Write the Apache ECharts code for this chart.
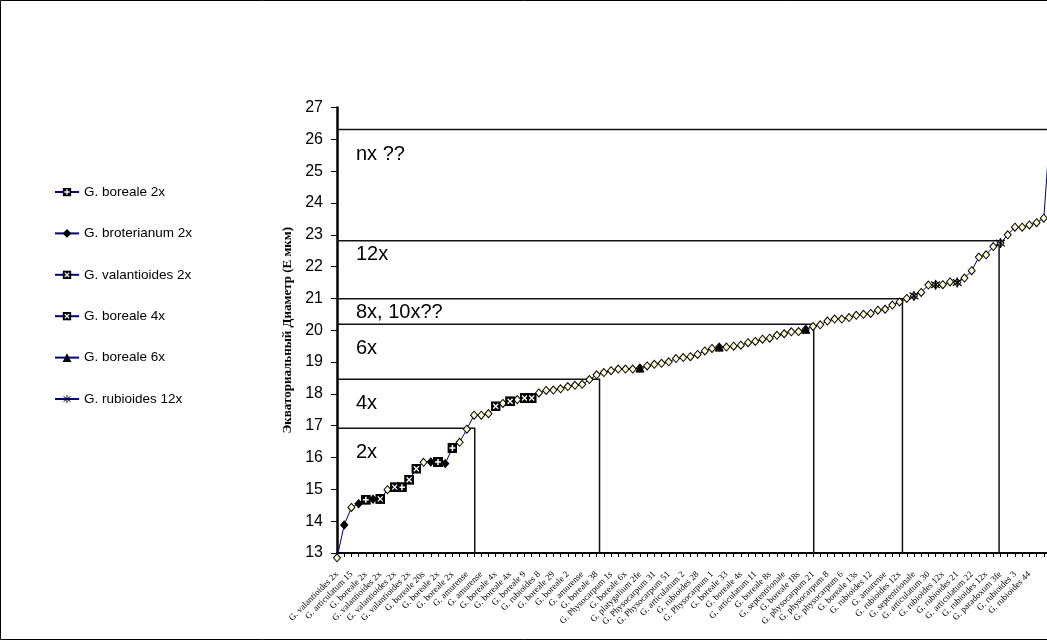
<!DOCTYPE html>
<html><head><meta charset="utf-8">
<script src="https://cdn.jsdelivr.net/npm/echarts@6/dist/echarts.min.js"></script>
<style>html,body{margin:0;padding:0;background:#fff}#c{width:1047px;height:641px}</style>
</head><body><div id="c"></div>
<script>
// Category tick labels (every second category is labelled)
const labels = [
 'G. valantioides 2x','G. articulatum 15','G. boreale 2x','G. valantioides 2x','G. valantioides 2x',
 'G. valantioides 2x','G. boreale 20s','G. boreale 2x','G. boreale 2x','G. amurense',
 'G. amurense','G. boreale 4x','G. boreale 4x','G. boreale 9','G. rubioides 8',
 'G. boreale 29','G. boreale 2','G. amurense','G. boreale 38','G. Physocarpum 1s',
 'G. boreale 6x','G. platygalium 2fe','G. Physocarpum 31','G. Physocarpum 51','G. articulatum 2',
 'G. rubioides 28','G. Physocarpum 1','G. boreale 33','G. boreale 4s','G. articulatum 11',
 'G. boreale 8s','G. septentrionale','G. boreale 18s','G. physocarpum 21','G. physocarpum 8',
 'G. physocarpum 6','G. boreale 13s','G. rubioides 12','G. amurense','G. rubioides 12x',
 'G. septentrionale','G. articulatum 30','G. rubioides 12x','G. rubioides 21','G. articulatum 22',
 'G. rubioides 12x','G. paradoxum 3fe','G. rubioides 3','G. rubioides 44'
];
// Equatorial diameter values, sorted
const values = [
 12.85,13.88,14.43,14.55,14.67,14.69,14.70,14.99,15.07,15.07,
 15.30,15.65,15.85,15.86,15.86,15.81,16.30,16.48,16.89,17.33,
 17.33,17.38,17.61,17.70,17.77,17.82,17.87,17.87,18.03,18.11,
 18.12,18.16,18.23,18.27,18.30,18.45,18.60,18.67,18.73,18.78,
 18.78,18.78,18.81,18.88,18.93,18.96,19.01,19.11,19.14,19.17,
 19.24,19.35,19.43,19.47,19.47,19.50,19.53,19.61,19.65,19.72,
 19.75,19.84,19.89,19.95,19.96,20.03,20.12,20.17,20.29,20.35,
 20.35,20.40,20.47,20.50,20.53,20.63,20.66,20.79,20.89,21.00,
 21.08,21.19,21.42,21.43,21.43,21.52,21.50,21.64,21.87,22.30,
 22.37,22.63,22.74,23.00,23.24,23.24,23.31,23.38,23.52,26.70
];
// positions (category index) of the highlighted samples
const boreale2x = [4, 9, 14, 16];
const broterianum2x = [1, 3, 5, 13, 15];
const valantioides2x = [6, 8, 10, 11];
const boreale4x = [22, 24, 26, 27];
const boreale6x = [42, 53, 65];
const rubioides12x = [80, 83, 86, 92];
// ploidy boxes
const bandNames = ['2x', '4x', '6x', '8x, 10x??', '12x', 'nx ??'];
const bandTops = [16.92, 18.46, 20.19, 20.99, 22.81, 26.31];
const bandEnds = [19.1, 36.4, 66.1, 78.4, 91.8, 110];
const bandLabelDy = [24, 24, 24, 14, 14, 25];

const categories = values.map((v, i) => (i % 2 === 0 && labels[i / 2] !== undefined) ? labels[i / 2] : '');

function svgSym(s) { return 'image://data:image/svg+xml;charset=utf-8,' + encodeURIComponent(s); }
const symPlus = svgSym("<svg xmlns='http://www.w3.org/2000/svg' width='20' height='20'><rect width='20' height='20' fill='black'/><path d='M10 4V16M4 10H16' stroke='white' stroke-width='3'/></svg>");
const symX = svgSym("<svg xmlns='http://www.w3.org/2000/svg' width='20' height='20'><rect width='20' height='20' fill='black'/><path d='M5 5L15 15M15 5L5 15' stroke='white' stroke-width='2.6'/></svg>");
const symStar = svgSym("<svg xmlns='http://www.w3.org/2000/svg' width='20' height='20'><path d='M10 1V19M2 4L18 16M18 4L2 16' stroke='black' stroke-width='2.2'/></svg>");

const NAVY = '#000080';
function overlay(name, idx, symbol, size, color) {
  return {
    name: name, type: 'line', z: 4,
    data: values.map((v, i) => idx.indexOf(i) >= 0 ? v : null),
    symbol: symbol, symbolSize: size, showAllSymbol: true, connectNulls: false,
    lineStyle: { color: NAVY, width: 1 },
    itemStyle: { color: color || '#000', borderColor: color || '#000' },
    emphasis: { disabled: true }, animation: false, clip: false
  };
}

const chart = echarts.init(document.getElementById('c'), null, { renderer: 'canvas' });
chart.setOption({
  animation: false,
  backgroundColor: '#fff',
  graphic: [{ type: 'rect', shape: { x: 0.5, y: 0.5, width: 1100, height: 639 }, style: { fill: 'none', stroke: '#000', lineWidth: 1 }, silent: true }],
  legend: {
    orient: 'vertical', left: 49, top: 180, itemWidth: 24, itemHeight: 11, itemGap: 27.4,
    data: ['G. boreale 2x', 'G. broterianum 2x', 'G. valantioides 2x', 'G. boreale 4x', 'G. boreale 6x', 'G. rubioides 12x'],
    textStyle: { fontFamily: 'Liberation Sans, Arial', fontSize: 13.5, color: '#000' },
    selectedMode: false
  },
  grid: { left: 337, top: 107.5, bottom: 88, width: 714, containLabel: false, outerBoundsMode: 'none' },
  xAxis: [{
    type: 'category', data: categories, boundaryGap: false,
    axisLine: { lineStyle: { color: '#000', width: 2 } },
    axisTick: { interval: 0, length: 4, lineStyle: { color: '#000' } },
    axisLabel: { interval: 1, rotate: 45, fontFamily: 'Liberation Serif, Times New Roman', fontSize: 9, color: '#000', margin: 20 },
    splitLine: { show: false }
  }, {
    type: 'value', min: 0, max: values.length - 1, show: false, gridIndex: 0
  }],
  yAxis: {
    type: 'value', min: 13, max: 27, interval: 1,
    name: 'Экваториальный Диаметр (Е мкм)', nameLocation: 'middle', nameGap: 40, nameRotate: 90,
    nameTextStyle: { fontFamily: 'Liberation Serif, Times New Roman', fontWeight: 'bold', fontSize: 13, color: '#000' },
    axisLine: { show: true, lineStyle: { color: '#000', width: 2.5 } },
    axisTick: { show: true, length: 6, lineStyle: { color: '#000' } },
    axisLabel: { fontFamily: 'Liberation Sans, Arial', fontSize: 16, color: '#000', margin: 14 },
    splitLine: { show: false }
  },
  series: [
    {
      type: 'custom', xAxisIndex: 1, yAxisIndex: 0, z: 1, clip: false, silent: true,
      data: bandTops.map((t, i) => [bandEnds[i], t]),
      renderItem: function (params, api) {
        const i = params.dataIndex;
        const p0 = api.coord([0, api.value(1)]);
        const p1 = api.coord([api.value(0), api.value(1)]);
        const p2 = api.coord([api.value(0), 13]);
        return {
          type: 'group', children: [
            { type: 'polyline', shape: { points: [p0, p1, p2] }, style: { stroke: '#111', lineWidth: 1.5, fill: null } },
            { type: 'text', x: p0[0] + 19, y: p0[1] + bandLabelDy[i], style: { text: bandNames[i], fontFamily: 'Liberation Sans, Arial', fontSize: 20, fill: '#000', verticalAlign: 'middle', align: 'left' } }
          ]
        };
      }
    },
    {
      name: 'all', type: 'line', z: 3, data: values, clip: false,
      symbol: 'diamond', symbolSize: [7, 8], showAllSymbol: true,
      lineStyle: { color: NAVY, width: 1 },
      itemStyle: { color: '#FFFFCC', borderColor: '#000', borderWidth: 1 },
      emphasis: { disabled: true }
    },
    overlay('G. boreale 2x', boreale2x, symPlus, 10),
    overlay('G. broterianum 2x', broterianum2x, 'diamond', 7),
    overlay('G. valantioides 2x', valantioides2x, symX, 10),
    overlay('G. boreale 4x', boreale4x, symX, 10),
    overlay('G. boreale 6x', boreale6x, 'triangle', 8),
    overlay('G. rubioides 12x', rubioides12x, symStar, 11)
  ]
});
</script></body></html>
